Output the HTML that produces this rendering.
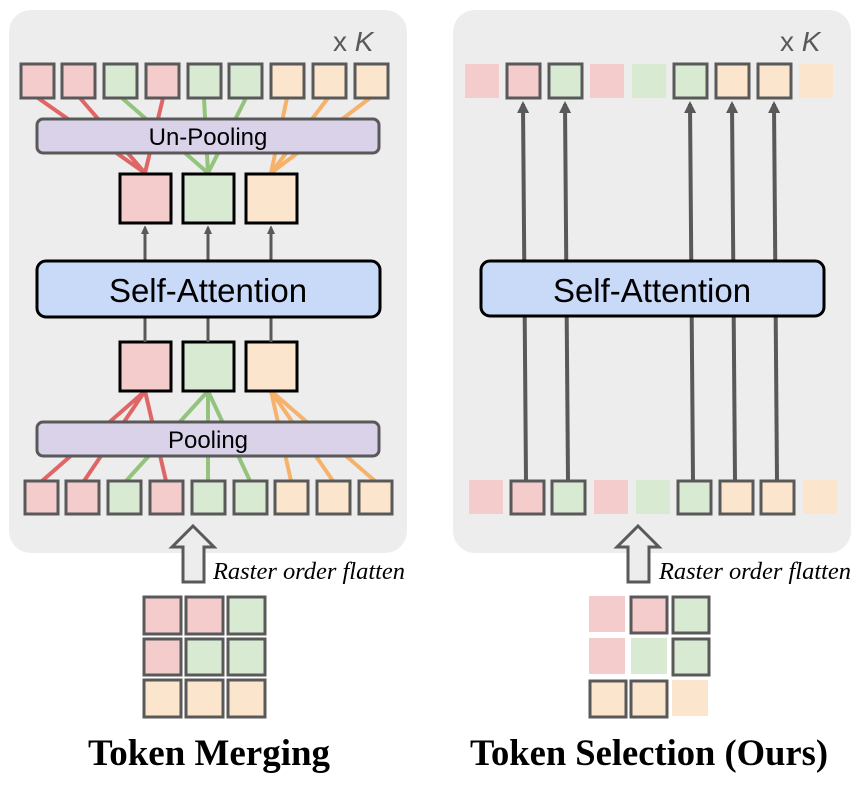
<!DOCTYPE html>
<html><head><meta charset="utf-8"><style>
html,body{margin:0;padding:0;background:#fff;}
svg{display:block;}
.t{font-family:"Liberation Sans",sans-serif;}
</style></head><body>
<svg width="856" height="800" viewBox="0 0 856 800" xmlns="http://www.w3.org/2000/svg">
<defs>
<marker id="ah" markerWidth="8" markerHeight="8" refX="6" refY="4" orient="auto" markerUnits="userSpaceOnUse">
<path d="M0,0 L9,4 L0,8 z" fill="#595959"/>
</marker>
<marker id="ah2" markerWidth="12" markerHeight="12" refX="9" refY="6" orient="auto" markerUnits="userSpaceOnUse">
<path d="M0,0 L12,6 L0,12 z" fill="#595959"/>
</marker>
</defs>

<rect x="9" y="10" width="398" height="543" rx="22" fill="#ededed"/>
<rect x="453" y="10" width="398" height="543" rx="22" fill="#ededed"/>

<text x="333" y="51" class="t" font-size="28" fill="#595959">x <tspan font-style="italic">K</tspan></text>
<text x="780" y="51" class="t" font-size="28" fill="#595959">x <tspan font-style="italic">K</tspan></text>

<g stroke-width="4" fill="none">
<g stroke="#e06666">
<line x1="38" y1="98" x2="145" y2="173"/>
<line x1="80" y1="98" x2="145" y2="173"/>
<line x1="163" y1="98" x2="145" y2="173"/>
</g>
<g stroke="#93c47d">
<line x1="122" y1="98" x2="208" y2="173"/>
<line x1="204" y1="98" x2="208" y2="173"/>
<line x1="246" y1="98" x2="208" y2="173"/>
</g>
<g stroke="#f6b26b">
<line x1="287" y1="98" x2="271" y2="173"/>
<line x1="328" y1="98" x2="271" y2="173"/>
<line x1="370" y1="98" x2="271" y2="173"/>
</g>
<g stroke="#e06666">
<line x1="42" y1="481" x2="145" y2="391"/>
<line x1="84" y1="481" x2="145" y2="391"/>
<line x1="166" y1="481" x2="145" y2="391"/>
</g>
<g stroke="#93c47d">
<line x1="126" y1="481" x2="208" y2="391"/>
<line x1="208" y1="481" x2="208" y2="391"/>
<line x1="250" y1="481" x2="208" y2="391"/>
</g>
<g stroke="#f6b26b">
<line x1="291" y1="481" x2="271" y2="391"/>
<line x1="333" y1="481" x2="271" y2="391"/>
<line x1="375" y1="481" x2="271" y2="391"/>
</g>
</g>

<g stroke="#595959" stroke-width="3">
<rect x="21" y="64" width="33" height="34" fill="#f4cccc"/>
<rect x="62" y="64" width="33" height="34" fill="#f4cccc"/>
<rect x="104" y="64" width="33" height="34" fill="#d9ead3"/>
<rect x="146" y="64" width="33" height="34" fill="#f4cccc"/>
<rect x="188" y="64" width="33" height="34" fill="#d9ead3"/>
<rect x="229" y="64" width="33" height="34" fill="#d9ead3"/>
<rect x="271" y="64" width="33" height="34" fill="#fce5cd"/>
<rect x="313" y="64" width="33" height="34" fill="#fce5cd"/>
<rect x="355" y="64" width="33" height="34" fill="#fce5cd"/>
</g>
<g stroke="#595959" stroke-width="3">
<rect x="25" y="481" width="33" height="33" fill="#f4cccc"/>
<rect x="66" y="481" width="33" height="33" fill="#f4cccc"/>
<rect x="108" y="481" width="33" height="33" fill="#d9ead3"/>
<rect x="150" y="481" width="33" height="33" fill="#f4cccc"/>
<rect x="192" y="481" width="33" height="33" fill="#d9ead3"/>
<rect x="234" y="481" width="33" height="33" fill="#d9ead3"/>
<rect x="275" y="481" width="33" height="33" fill="#fce5cd"/>
<rect x="317" y="481" width="33" height="33" fill="#fce5cd"/>
<rect x="359" y="481" width="33" height="33" fill="#fce5cd"/>
</g>

<rect x="37" y="119" width="342" height="34" rx="6" fill="#d9d2e9" stroke="#595959" stroke-width="3"/>
<text x="208" y="145" text-anchor="middle" class="t" font-size="24" fill="#000">Un-Pooling</text>
<rect x="37" y="422" width="342" height="34" rx="6" fill="#d9d2e9" stroke="#595959" stroke-width="3"/>
<text x="208" y="448" text-anchor="middle" class="t" font-size="24" fill="#000">Pooling</text>

<g stroke="#000" stroke-width="3">
<rect x="120" y="174" width="51" height="49" fill="#f4cccc"/>
<rect x="183" y="174" width="51" height="49" fill="#d9ead3"/>
<rect x="246" y="174" width="51" height="49" fill="#fce5cd"/>
<rect x="120" y="342" width="51" height="49" fill="#f4cccc"/>
<rect x="183" y="342" width="51" height="49" fill="#d9ead3"/>
<rect x="246" y="342" width="51" height="49" fill="#fce5cd"/>
</g>
<g stroke="#595959" stroke-width="3">
<line x1="145" y1="260" x2="145" y2="228" marker-end="url(#ah)"/>
<line x1="208" y1="260" x2="208" y2="228" marker-end="url(#ah)"/>
<line x1="271" y1="260" x2="271" y2="228" marker-end="url(#ah)"/>
<line x1="145" y1="318" x2="145" y2="342"/>
<line x1="208" y1="318" x2="208" y2="342"/>
<line x1="271" y1="318" x2="271" y2="342"/>
</g>
<rect x="37" y="261" width="343" height="56" rx="9" fill="#c9daf8" stroke="#000" stroke-width="3"/>
<text x="208" y="302" text-anchor="middle" class="t" font-size="33" fill="#000">Self-Attention</text>

<g stroke="#595959" stroke-width="4">
<line x1="526" y1="481" x2="523" y2="104" marker-end="url(#ah2)"/>
<line x1="568" y1="481" x2="565" y2="104" marker-end="url(#ah2)"/>
<line x1="693" y1="481" x2="690" y2="104" marker-end="url(#ah2)"/>
<line x1="735" y1="481" x2="732" y2="104" marker-end="url(#ah2)"/>
<line x1="777" y1="481" x2="774" y2="104" marker-end="url(#ah2)"/>
</g>
<rect x="481" y="261" width="343" height="55" rx="9" fill="#c9daf8" stroke="#000" stroke-width="3"/>
<text x="652" y="302" text-anchor="middle" class="t" font-size="33" fill="#000">Self-Attention</text>

<rect x="465" y="64" width="34" height="34" fill="#f4cccc"/>
<rect x="507" y="64" width="33" height="34" fill="#f4cccc" stroke="#595959" stroke-width="3"/>
<rect x="549" y="64" width="33" height="34" fill="#d9ead3" stroke="#595959" stroke-width="3"/>
<rect x="590" y="64" width="34" height="34" fill="#f4cccc"/>
<rect x="632" y="64" width="34" height="34" fill="#d9ead3"/>
<rect x="674" y="64" width="33" height="34" fill="#d9ead3" stroke="#595959" stroke-width="3"/>
<rect x="716" y="64" width="33" height="34" fill="#fce5cd" stroke="#595959" stroke-width="3"/>
<rect x="758" y="64" width="33" height="34" fill="#fce5cd" stroke="#595959" stroke-width="3"/>
<rect x="799" y="64" width="34" height="34" fill="#fce5cd"/>
<rect x="469" y="480" width="34" height="34" fill="#f4cccc"/>
<rect x="511" y="481" width="33" height="33" fill="#f4cccc" stroke="#595959" stroke-width="3"/>
<rect x="552" y="481" width="33" height="33" fill="#d9ead3" stroke="#595959" stroke-width="3"/>
<rect x="594" y="480" width="34" height="34" fill="#f4cccc"/>
<rect x="636" y="480" width="34" height="34" fill="#d9ead3"/>
<rect x="678" y="481" width="33" height="33" fill="#d9ead3" stroke="#595959" stroke-width="3"/>
<rect x="720" y="481" width="33" height="33" fill="#fce5cd" stroke="#595959" stroke-width="3"/>
<rect x="761" y="481" width="33" height="33" fill="#fce5cd" stroke="#595959" stroke-width="3"/>
<rect x="803" y="480" width="34" height="34" fill="#fce5cd"/>

<path d="M193,526 L214,547 L204,547 L204,582 L183,582 L183,547 L172,547 Z" fill="#ededed" stroke="#595959" stroke-width="3"/>
<path d="M638,526 L659,547 L649,547 L649,582 L628,582 L628,547 L617,547 Z" fill="#ededed" stroke="#595959" stroke-width="3"/>
<text x="213" y="579" font-family="Liberation Serif, serif" font-style="italic" font-size="24" textLength="192" lengthAdjust="spacingAndGlyphs" fill="#000">Raster order flatten</text>
<text x="659" y="579" font-family="Liberation Serif, serif" font-style="italic" font-size="24" textLength="192" lengthAdjust="spacingAndGlyphs" fill="#000">Raster order flatten</text>

<g stroke="#595959" stroke-width="3">
<rect x="144" y="597" width="37" height="37" fill="#f4cccc"/>
<rect x="186" y="597" width="37" height="37" fill="#f4cccc"/>
<rect x="228" y="597" width="37" height="37" fill="#d9ead3"/>
<rect x="144" y="639" width="37" height="36" fill="#f4cccc"/>
<rect x="186" y="639" width="37" height="36" fill="#d9ead3"/>
<rect x="228" y="639" width="37" height="36" fill="#d9ead3"/>
<rect x="144" y="680" width="37" height="37" fill="#fce5cd"/>
<rect x="186" y="680" width="37" height="37" fill="#fce5cd"/>
<rect x="228" y="680" width="37" height="37" fill="#fce5cd"/>
</g>
<rect x="589" y="596" width="36" height="36" fill="#f4cccc"/>
<rect x="631" y="597" width="36" height="36" fill="#f4cccc" stroke="#595959" stroke-width="3"/>
<rect x="673" y="597" width="36" height="36" fill="#d9ead3" stroke="#595959" stroke-width="3"/>
<rect x="589" y="638" width="36" height="36" fill="#f4cccc"/>
<rect x="631" y="638" width="36" height="36" fill="#d9ead3"/>
<rect x="673" y="639" width="36" height="36" fill="#d9ead3" stroke="#595959" stroke-width="3"/>
<rect x="590" y="681" width="36" height="36" fill="#fce5cd" stroke="#595959" stroke-width="3"/>
<rect x="631" y="681" width="36" height="36" fill="#fce5cd" stroke="#595959" stroke-width="3"/>
<rect x="672" y="680" width="36" height="36" fill="#fce5cd"/>

<text x="209" y="765" text-anchor="middle" font-family="Liberation Serif, serif" font-weight="bold" font-size="37" textLength="242" lengthAdjust="spacingAndGlyphs" fill="#000">Token Merging</text>
<text x="649" y="765" text-anchor="middle" font-family="Liberation Serif, serif" font-weight="bold" font-size="37" textLength="358" lengthAdjust="spacingAndGlyphs" fill="#000">Token Selection (Ours)</text>
</svg>
</body></html>
